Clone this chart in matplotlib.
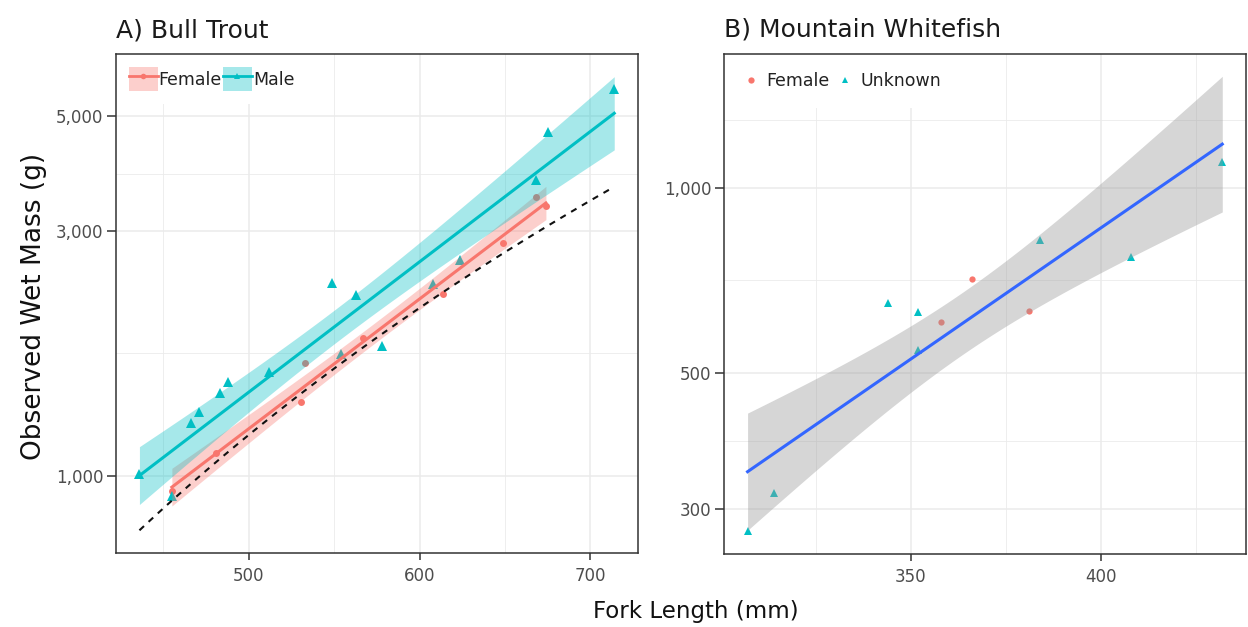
import numpy as np
import matplotlib
matplotlib.use("Agg")
import matplotlib.pyplot as plt
from matplotlib.patches import Patch
from matplotlib.lines import Line2D
from matplotlib.ticker import FixedLocator, FuncFormatter, NullFormatter

# ---- data ----
# A) Bull Trout
bt_female_length = [455, 481, 530.5, 533, 567, 614, 649, 668, 674]
bt_female_mass = [935, 1108, 1393, 1660, 1858, 2257, 2840, 3484, 3355]
bt_male_length = [436, 455, 466, 471, 483, 488, 512, 549, 554, 563, 578,
                  608, 623.5, 668, 675, 714]
bt_male_mass = [1010, 914, 1271, 1335, 1452, 1523, 1592, 2377, 1725, 2247,
                1790, 2358, 2633, 3767, 4662, 5650]
# standard weight reference (dashed): log10(W) = a + b * log10(L)
ws_a, ws_b = -5.327, 3.115

# B) Mountain Whitefish
mw_female_length = [358, 366, 381]
mw_female_mass = [605, 709, 629]
mw_unknown_length = [307, 314, 344, 352, 352, 384, 408, 432]
mw_unknown_mass = [276, 318, 650, 628, 544, 822, 770, 1102]

bt_breaks_x = [500, 600, 700]
bt_breaks_y = [1000, 3000, 5000]
mw_breaks_x = [350, 400]
mw_breaks_y = [300, 500, 1000]

FEMALE = "#F8766D"
MALE = "#00BFC4"
GRID = "#EBEBEB"


def t_crit(df):
    try:
        from scipy.stats import t
        return t.ppf(0.975, df)
    except ImportError:
        table = {5: 2.571, 6: 2.447, 7: 2.365, 8: 2.306, 9: 2.262, 10: 2.228,
                 11: 2.201, 12: 2.179, 13: 2.160, 14: 2.145, 15: 2.131}
        return table.get(df, 1.96)


def lm_band(x, y, n=80):
    # lm on log10(mass) ~ length, like geom_smooth on a log10 y scale
    x = np.asarray(x, float)
    ly = np.log10(y)
    b, a = np.polyfit(x, ly, 1)
    dof = len(x) - 2
    s = np.sqrt(np.sum((ly - (a + b * x)) ** 2) / dof)
    xs = np.linspace(x.min(), x.max(), n)
    fit = a + b * xs
    se = s * np.sqrt(1 / len(x) + (xs - x.mean()) ** 2 / np.sum((x - x.mean()) ** 2))
    tq = t_crit(dof)
    return xs, fit, fit - tq * se, fit + tq * se


def expand(lo, hi, f=0.05):
    r = hi - lo
    return lo - f * r, hi + f * r


def minor_breaks(major, lo, hi):
    b = list(major)
    bd = b[1] - b[0]
    if lo < b[0]:
        b = [b[0] - bd] + b
    if hi > b[-1]:
        b = b + [b[-1] + bd]
    mids = [(b[i] + b[i + 1]) / 2 for i in range(len(b) - 1)]
    return [m for m in mids if lo <= m <= hi]


def style_axes(ax, bx, by, xlim, ylim_log):
    ax.set_xlim(*xlim)
    ax.set_yscale("log")
    ax.set_ylim(10 ** ylim_log[0], 10 ** ylim_log[1])
    ax.xaxis.set_major_locator(FixedLocator(bx))
    ax.xaxis.set_minor_locator(FixedLocator(minor_breaks(bx, *xlim)))
    ax.yaxis.set_major_locator(FixedLocator(by))
    ly = np.log10(by)
    ax.yaxis.set_minor_locator(FixedLocator(10 ** np.array(minor_breaks(ly, *ylim_log))))
    ax.yaxis.set_major_formatter(FuncFormatter(lambda v, p: f"{v:,.0f}"))
    ax.yaxis.set_minor_formatter(NullFormatter())
    ax.xaxis.set_minor_formatter(NullFormatter())
    ax.grid(which="major", color=GRID, lw=1.1)
    ax.grid(which="minor", color=GRID, lw=0.6)
    ax.set_axisbelow(True)
    ax.tick_params(which="minor", length=0)
    ax.tick_params(which="major", colors="#333333", labelcolor="#4D4D4D",
                   labelsize=12, width=1.1)
    ax.tick_params(axis="x", which="major", length=5, pad=5)
    ax.tick_params(axis="y", which="major", length=6.5, pad=2.5)
    for sp in ax.spines.values():
        sp.set_color("#333333")
        sp.set_linewidth(1.1)
        sp.set_zorder(10)


fig = plt.figure(figsize=(12.48, 6.27), dpi=100)
ax1 = fig.add_axes([0.0927, 0.1180, 0.4185, 0.7959])
ax2 = fig.add_axes([0.5800, 0.1164, 0.4184, 0.7982])

# ---- A) Bull Trout ----
fx, ffit, flo, fhi = lm_band(bt_female_length, bt_female_mass)
mx, mfit, mlo, mhi = lm_band(bt_male_length, bt_male_mass)
all_len = np.array(bt_female_length + bt_male_length, float)
ws_len = np.linspace(all_len.min(), all_len.max(), 100)
ws_log = ws_a + ws_b * np.log10(ws_len)

ax1.plot(bt_female_length, bt_female_mass, "o", color=FEMALE, ms=5, mew=0, zorder=2)
ax1.plot(bt_male_length, bt_male_mass, "^", color=MALE, ms=6.5, mew=0, zorder=2)
ax1.fill_between(fx, 10 ** flo, 10 ** fhi, color=FEMALE, alpha=0.35, lw=0, zorder=3)
ax1.fill_between(mx, 10 ** mlo, 10 ** mhi, color=MALE, alpha=0.35, lw=0, zorder=3)
ax1.plot(fx, 10 ** ffit, color=FEMALE, lw=2.2, zorder=4)
ax1.plot(mx, 10 ** mfit, color=MALE, lw=2.2, zorder=4)
ax1.plot(ws_len, 10 ** ws_log, color="#111111", lw=1.5, ls=(0, (3, 3)), zorder=5)

ylog = np.concatenate([np.log10(bt_female_mass), np.log10(bt_male_mass),
                       flo, fhi, mlo, mhi, ws_log])
style_axes(ax1, bt_breaks_x, bt_breaks_y,
           expand(all_len.min(), all_len.max()), expand(ylog.min(), ylog.max()))
ax1.set_title("A) Bull Trout", loc="left", fontsize=18, pad=12, color="#1a1a1a")

h1 = [(Patch(facecolor=FEMALE, alpha=0.35, edgecolor="none"),
       Line2D([], [], color=FEMALE, lw=2, marker="o", ms=4, mew=0)),
      (Patch(facecolor=MALE, alpha=0.35, edgecolor="none"),
       Line2D([], [], color=MALE, lw=2, marker="^", ms=4.5, mew=0))]
ax1.legend(h1, ["Female", "Male"], loc="upper left", bbox_to_anchor=(0, 1),
           borderaxespad=0, borderpad=0.75, ncol=2, handlelength=1.68,
           handleheight=1.78, handletextpad=0.05, columnspacing=0.05,
           fontsize=12.5, frameon=True, facecolor="white", edgecolor="none",
           framealpha=1, fancybox=False, labelcolor="#222222")

# ---- B) Mountain Whitefish ----
mw_len = mw_female_length + mw_unknown_length
mw_mass = mw_female_mass + mw_unknown_mass
wx, wfit, wlo, whi = lm_band(mw_len, mw_mass)

ax2.plot(mw_female_length, mw_female_mass, "o", color=FEMALE, ms=4.5, mew=0, zorder=2)
ax2.plot(mw_unknown_length, mw_unknown_mass, "^", color=MALE, ms=5.5, mew=0, zorder=2)
ax2.fill_between(wx, 10 ** wlo, 10 ** whi, color="#999999", alpha=0.4, lw=0, zorder=3)
ax2.plot(wx, 10 ** wfit, color="#3366FF", lw=2.2, zorder=4)

ylog2 = np.concatenate([np.log10(mw_mass), wlo, whi])
style_axes(ax2, mw_breaks_x, mw_breaks_y,
           expand(min(mw_len), max(mw_len)), expand(ylog2.min(), ylog2.max()))
ax2.set_title("B) Mountain Whitefish", loc="left", fontsize=18, pad=12, color="#1a1a1a")

h2 = [Line2D([], [], ls="none", marker="o", color=FEMALE, ms=4.5, mew=0),
      Line2D([], [], ls="none", marker="^", color=MALE, ms=5, mew=0)]
ax2.legend(h2, ["Female", "Unknown"], loc="upper left", bbox_to_anchor=(0, 1),
           borderaxespad=0, borderpad=1.05, ncol=2, handlelength=1.06,
           handletextpad=0.33, columnspacing=0.38, fontsize=12.5,
           frameon=True, facecolor="white", edgecolor="none", framealpha=1,
           fancybox=False, labelcolor="#222222")

fig.text(695.7 / 1248, 8.7 / 627, "Fork Length (mm)", ha="center", va="baseline",
         fontsize=16.5, color="#111111")
fig.text(34 / 1248, 1 - 306 / 627, "Observed Wet Mass (g)", rotation=90,
         ha="center", va="center", fontsize=19, color="#111111")

fig.savefig("out.png", dpi=100)
